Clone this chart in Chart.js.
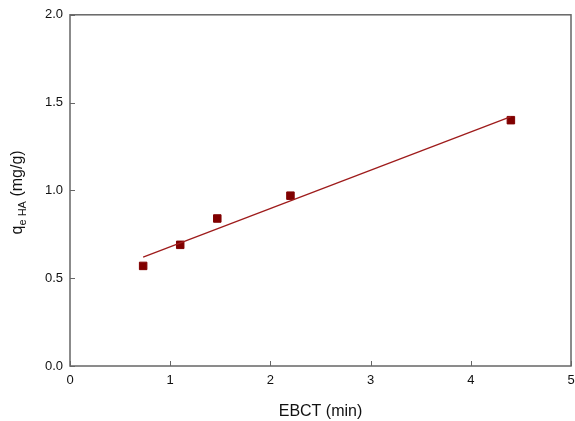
<!DOCTYPE html>
<html>
<head>
<meta charset="utf-8">
<script src="https://cdn.jsdelivr.net/npm/chart.js@4/dist/chart.umd.min.js"></script>
<style>
  html, body { margin: 0; padding: 0; background: #fff; }
  #wrap { width: 575px; height: 421px; }
</style>
</head>
<body>
<div id="wrap"><canvas id="chart" width="575" height="421"></canvas></div>
<script>
// measured points
const ebct = [0.73, 1.1, 1.47, 2.2, 4.4];
const qeHA = [0.57, 0.69, 0.84, 0.97, 1.40];
// fitted line, end points
const fitX = [0.73, 4.4];
const fitY = [0.62, 1.42];

const xTicks = [0, 1, 2, 3, 4, 5];
const yTicks = [0.0, 0.5, 1.0, 1.5, 2.0];

const markColor = '#800000';
const lineColor = '#9e1b1b';
const axisColor = '#666666';
const fontFam = '"Liberation Sans", Arial, sans-serif';

// frame + inward ticks + x tick labels
const framePlugin = {
    id: 'frame',
    afterDatasetsDraw(chart) {
        const ctx = chart.ctx;
        const a = chart.chartArea;
        const xs = chart.scales.x, ys = chart.scales.y;
        ctx.save();
        ctx.strokeStyle = axisColor;
        ctx.lineWidth = 1.5;
        ctx.strokeRect(a.left, a.top, a.right - a.left, a.bottom - a.top);
        ctx.lineWidth = 1;
        ctx.beginPath();
        xTicks.forEach(v => {
            const px = Math.round(xs.getPixelForValue(v)) + 0.5;
            ctx.moveTo(px, a.bottom);
            ctx.lineTo(px, a.bottom - 5);
        });
        yTicks.forEach(v => {
            const py = Math.round(ys.getPixelForValue(v)) + 0.5;
            ctx.moveTo(a.left, py);
            ctx.lineTo(a.left + 5, py);
        });
        ctx.stroke();

        // x labels drawn here so the last one doesn't pad the chart area
        ctx.fillStyle = '#111';
        ctx.font = '13px ' + fontFam;
        ctx.textAlign = 'center';
        ctx.textBaseline = 'middle';
        xTicks.forEach(v => {
            ctx.fillText(String(v), xs.getPixelForValue(v), a.bottom + 14);
        });
        ctx.restore();
    }
};

// y title with subscript
const yTitlePlugin = {
    id: 'ytitle',
    afterDraw(chart) {
        const ctx = chart.ctx;
        const a = chart.chartArea;
        ctx.save();
        ctx.translate(18, (a.top + a.bottom) / 2 + 2);
        ctx.rotate(-Math.PI / 2);
        ctx.fillStyle = '#111';
        ctx.textBaseline = 'middle';
        const big = '16px ' + fontFam;
        const small = '11px ' + fontFam;
        ctx.font = big;
        const w1 = ctx.measureText('q').width;
        const w3 = ctx.measureText(' (mg/g)').width;
        ctx.font = small;
        const w2 = ctx.measureText('e HA').width;
        let x = -(w1 + w2 + w3) / 2;
        ctx.font = big;
        ctx.fillText('q', x, 0);
        x += w1;
        ctx.font = small;
        ctx.fillText('e HA', x, 5);
        x += w2;
        ctx.font = big;
        ctx.fillText(' (mg/g)', x, 0);
        ctx.restore();
    }
};

const tickFont = { family: fontFam, size: 13 };

new Chart(document.getElementById('chart'), {
    type: 'scatter',
    data: {
        datasets: [
            {
                type: 'line',
                data: fitX.map((x, i) => ({ x: x, y: fitY[i] })),
                borderColor: lineColor,
                borderWidth: 1.3,
                pointRadius: 0,
                fill: false
            },
            {
                data: ebct.map((x, i) => ({ x: x, y: qeHA[i] })),
                pointStyle: 'rect',
                pointRadius: 5.3,
                borderWidth: 1,
                backgroundColor: markColor,
                borderColor: markColor
            }
        ]
    },
    options: {
        responsive: false,
        animation: false,
        layout: { autoPadding: false, padding: { top: 14, right: 4, left: 0, bottom: 0 } },
        plugins: { legend: { display: false }, tooltip: { enabled: false } },
        scales: {
            x: {
                type: 'linear',
                min: 0, max: 5,
                afterBuildTicks: s => { s.ticks = xTicks.map(v => ({ value: v })); },
                afterFit: s => { s.height = 55; },
                grid: { display: false, drawTicks: false },
                border: { display: false },
                ticks: { display: false },
                title: { display: true, text: 'EBCT (min)', color: '#111',
                         font: { family: fontFam, size: 16 },
                         padding: { top: 8, bottom: 0 } }
            },
            y: {
                type: 'linear',
                min: 0, max: 2,
                afterBuildTicks: s => { s.ticks = yTicks.map(v => ({ value: v })); },
                afterFit: s => { s.width = 70; },
                grid: { display: false, drawTicks: false },
                border: { display: false },
                ticks: { font: tickFont, color: '#111', padding: 7,
                         callback: v => v.toFixed(1) }
            }
        }
    },
    plugins: [framePlugin, yTitlePlugin]
});
</script>
</body>
</html>
